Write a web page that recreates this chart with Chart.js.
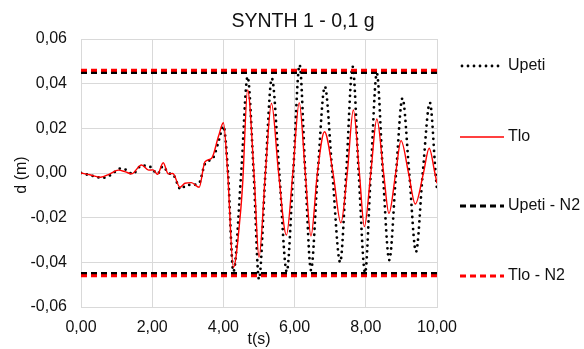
<!DOCTYPE html>
<html><head><meta charset="utf-8">
<script src="https://cdn.jsdelivr.net/npm/chart.js@4/dist/chart.umd.min.js"></script>
<style>html,body{margin:0;padding:0;background:#fff}#wrap{width:584px;height:349px}</style>
</head><body><div id="wrap"><canvas id="c" width="584" height="349"></canvas></div>
<script>
const chartTitle = 'SYNTH 1 - 0,1 g';
const xTitle = 't(s)';
const yTitle = 'd (m)';
const seriesNames = ['Upeti', 'Tlo', 'Upeti - N2', 'Tlo - N2'];
const xTicks = [0, 2, 4, 6, 8, 10];
const yTicks = [-0.06, -0.04, -0.02, 0, 0.02, 0.04, 0.06];

const upetiT = [0,0.3,0.6,0.85,1.1,1.3,1.45,1.7,1.95,2.15,2.3,2.45,2.6,2.8,2.95,3.15,3.32,3.48,3.72,3.88,4.0,4.13,4.28,4.5,4.68,4.85,5.0,5.18,5.36,5.57,5.78,5.96,6.14,6.3,6.46,6.65,6.85,7.06,7.28,7.45,7.63,7.8,7.98,8.14,8.31,8.48,8.66,8.85,9.03,9.22,9.41,9.6,9.8,9.96,10.0];
const upetiD = [0,-0.0012,-0.0022,-0.0008,0.002,0.0012,-0.0005,0.0033,0.0027,-0.0004,0.003,0,-0.001,-0.0073,-0.0055,-0.0053,-0.0045,0.004,0.007,0.015,0.021,0,-0.0442,0,0.0431,0,-0.0476,0,0.0424,0,-0.0442,0,0.0484,0,-0.0435,0,0.0387,0,-0.040,0,0.0476,0,-0.0447,0,0.0447,0,-0.039,0,0.0335,0,-0.0353,0,0.0315,0,-0.0076];

const tloT = [0,0.25,0.55,0.8,1.05,1.25,1.42,1.7,1.9,2.03,2.15,2.31,2.45,2.58,2.78,2.92,3.1,3.32,3.48,3.67,3.86,4.0,4.12,4.28,4.47,4.54,4.68,4.86,5.0,5.18,5.35,5.55,5.77,5.95,6.13,6.3,6.46,6.64,6.84,7.08,7.3,7.48,7.65,7.82,7.96,8.14,8.31,8.5,8.65,8.84,8.99,9.2,9.39,9.62,9.78,9.94,10.0];
const tloD = [0,-0.0008,-0.0019,-0.0005,0.0013,0.0005,-0.0004,0.0036,0.0013,0.0014,-0.0006,0.0046,-0.0004,-0.0002,-0.0064,-0.0046,-0.0043,-0.0064,0.005,0.0066,0.0163,0.0225,0,-0.0423,-0.0196,-0.005,0.0372,0,-0.0378,0,0.0312,0,-0.0278,0,0.0315,0,-0.0282,0,0.0185,0,-0.0223,0,0.0282,0,-0.024,0,0.0242,0,-0.0181,0,0.0145,0,-0.0139,0,0.0111,0,-0.0046];

const limitT = [0, 10];
const upetiN2 = [0.045, -0.045];
const tloN2 = [0.046, -0.046];

const pts = (ts, ds) => ts.map((t, i) => ({x: t, y: ds[i]}));
const limitPts = lv => [
  {x: limitT[0], y: lv[0]}, {x: limitT[1], y: lv[0]}, {x: limitT[1], y: null},
  {x: limitT[0], y: lv[1]}, {x: limitT[1], y: lv[1]}
];
const fmt = v => { const s = Math.abs(v) < 1e-9 ? 0 : v; return s.toFixed(2).replace('.', ','); };

const FONT = "'Liberation Sans', Arial, sans-serif";
const TXT = '#111111';

const styles = [
  {color: '#000000', width: 2.8, dash: [0, 6], cap: 'round'},
  {color: '#ff0000', width: 1.4, dash: [], cap: 'butt'},
  {color: '#000000', width: 2.8, dash: [6, 4], cap: 'butt'},
  {color: '#ff0000', width: 2.8, dash: [6, 4], cap: 'butt'}
];

const decor = {
  id: 'decor',
  afterDraw(chart) {
    const ctx = chart.ctx;
    const a = chart.chartArea;
    ctx.save();
    ctx.fillStyle = TXT;
    ctx.textAlign = 'center';
    ctx.textBaseline = 'middle';
    ctx.font = '19.5px ' + FONT;
    ctx.fillText(chartTitle, 303, 22);
    ctx.font = '16px ' + FONT;
    ctx.fillText(xTitle, (a.left + a.right) / 2, 340);
    ctx.save();
    ctx.translate(22, 175);
    ctx.rotate(-Math.PI / 2);
    ctx.fillText(yTitle, 0, 0);
    ctx.restore();
    const ys = [66, 137, 206, 276];
    ctx.textAlign = 'left';
    seriesNames.forEach((n, i) => {
      const s = styles[i];
      ctx.save();
      ctx.strokeStyle = s.color;
      ctx.lineWidth = s.width;
      ctx.setLineDash(s.dash);
      ctx.lineCap = s.cap;
      ctx.beginPath();
      ctx.moveTo(i === 0 ? 462 : 460, ys[i]);
      ctx.lineTo(504, ys[i]);
      ctx.stroke();
      ctx.restore();
      ctx.fillText(n, 508, ys[i]);
    });
    ctx.restore();
  }
};

const mk = (i, data, extra) => Object.assign({
  label: seriesNames[i], data,
  borderColor: styles[i].color, backgroundColor: styles[i].color,
  borderWidth: styles[i].width, borderDash: styles[i].dash, borderCapStyle: styles[i].cap,
  showLine: true, pointRadius: 0, pointHoverRadius: 0, fill: false
}, extra);

new Chart(document.getElementById('c'), {
  type: 'scatter',
  data: {
    datasets: [
      mk(0, pts(upetiT, upetiD), {cubicInterpolationMode: 'monotone', order: 3}),
      mk(1, pts(tloT, tloD), {cubicInterpolationMode: 'monotone', order: 2}),
      mk(2, limitPts(upetiN2), {tension: 0, spanGaps: false, order: 1}),
      mk(3, limitPts(tloN2), {tension: 0, spanGaps: false, order: 0})
    ]
  },
  options: {
    responsive: false, animation: false, devicePixelRatio: 1,
    layout: {padding: {left: 0, top: 39, right: 147, bottom: 0}},
    plugins: {legend: {display: false}, title: {display: false}, tooltip: {enabled: false}},
    scales: {
      x: {
        type: 'linear', min: 0, max: 10,
        afterBuildTicks: s => { s.ticks = xTicks.map(v => ({value: v})); },
        afterFit: s => { s.height = 42; },
        grid: {color: '#d9d9d9', lineWidth: 1, drawTicks: false},
        border: {display: true, color: '#d9d9d9'},
        ticks: {font: {family: FONT, size: 16}, color: TXT, padding: 11, callback: v => fmt(v), maxRotation: 0}
      },
      y: {
        type: 'linear', min: -0.06, max: 0.06,
        afterBuildTicks: s => { s.ticks = yTicks.map(v => ({value: v})); },
        afterFit: s => { s.width = 81; },
        grid: {color: '#d9d9d9', lineWidth: 1, drawTicks: false},
        border: {display: true, color: '#d9d9d9'},
        ticks: {font: {family: FONT, size: 16}, color: TXT, padding: 14, callback: v => fmt(v)}
      }
    }
  },
  plugins: [decor]
});
</script></body></html>
